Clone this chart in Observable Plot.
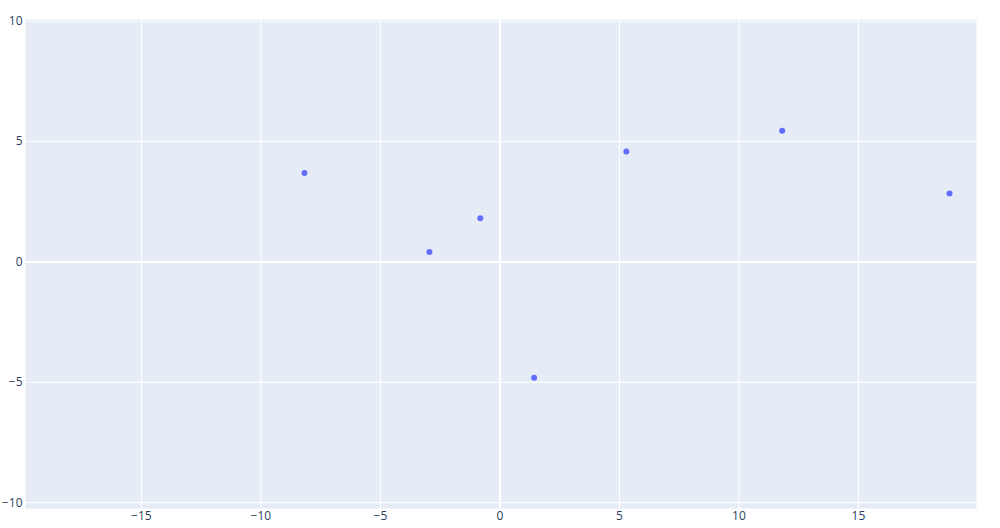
<!DOCTYPE html>
<html>
<head>
<meta charset="utf-8">
<script src="https://cdn.jsdelivr.net/npm/d3@7"></script>
<script src="https://cdn.jsdelivr.net/npm/@observablehq/plot@0.6"></script>
<style>
  html, body { margin: 0; padding: 0; background: #fff; }
</style>
</head>
<body>
<div id="chart"></div>
<script>
const xValues = [-8.18, -2.95, -0.82, 1.43, 5.29, 11.81, 18.81];
const yValues = [3.69, 0.41, 1.81, -4.81, 4.59, 5.45, 2.84];
const xTicks = [-15, -10, -5, 0, 5, 10, 15];
const yTicks = [-10, -5, 0, 5, 10];

const data = xValues.map((x, i) => ({x, y: yValues[i]}));

const chart = Plot.plot({
  width: 1000,
  height: 528,
  marginLeft: 25,
  marginRight: 24,
  marginTop: 19,
  marginBottom: 20,
  style: {fontFamily: "'Open Sans', sans-serif", fontSize: "12px", color: "#2a3f5f", background: "#fff"},
  x: {domain: [-19.85, 19.94], ticks: xTicks, tickSize: 0, tickPadding: 3, label: null},
  y: {domain: [-10.24, 10.07], ticks: yTicks, tickSize: 0, tickPadding: 3, label: null},
  marks: [
    Plot.frame({fill: "#E5ECF6", stroke: null}),
    Plot.gridX(xTicks, {stroke: "#fff", strokeOpacity: 1, strokeWidth: 1}),
    Plot.gridY(yTicks, {stroke: "#fff", strokeOpacity: 1, strokeWidth: 1}),
    Plot.ruleX([0], {stroke: "#fff", strokeWidth: 2}),
    Plot.ruleY([0], {stroke: "#fff", strokeWidth: 2}),
    Plot.dot(data, {x: "x", y: "y", r: 3, fill: "#636EFA", stroke: null})
  ]
});
document.getElementById("chart").appendChild(chart);
</script>
</body>
</html>
